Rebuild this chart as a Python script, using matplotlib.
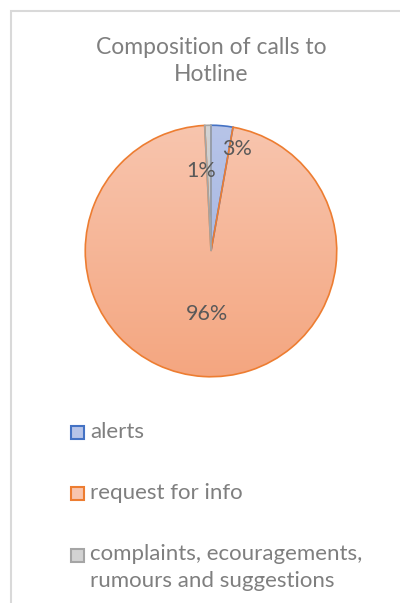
import matplotlib
matplotlib.use("Agg")
import matplotlib.pyplot as plt
import numpy as np
from matplotlib.colors import LinearSegmentedColormap
from matplotlib.patches import Rectangle

# data
categories = ['alerts', 'request for info', 'complaints, ecouragements,\nrumours and suggestions']
shares = [2.8, 96.4, 0.8]

# styles
edge_colors = ['#4472C4', '#ED7D31', '#A5A5A5']
grad_top = ['#B7C4E8', '#F8C5AE', '#D3D3D3']
grad_bottom = ['#9DB0DF', '#F4A680', '#BDBDBD']
label_dist = [0.84, 0.50, 0.64]
label_shift = [-9, 0, 5.5]  # degrees

W, H = 400, 603
plt.rcParams['font.family'] = ['Lato', 'DejaVu Sans']
fig = plt.figure(figsize=(W / 100, H / 100), dpi=100)

# chart border
fig.patches.append(Rectangle((11 / W, -0.1), 1.2, (H - 11) / H + 0.1, transform=fig.transFigure,
                             fill=False, ec='#D9D9D9', lw=1.5))

fig.text(211 / W, 1 - 37 / H, 'Composition of calls to\nHotline', ha='center', va='top',
         fontsize=16.5, color='#7F7F7F', linespacing=1.38)

ax = fig.add_axes([84 / W, 1 - 378 / H, 254 / W, 254 / H])
wedges, texts, autotexts = ax.pie(shares, startangle=90, counterclock=False, radius=1,
                                  autopct='%1.0f%%', textprops=dict(fontsize=15.5, color='#595959'),
                                  wedgeprops=dict(linewidth=1.2))

grad = np.linspace(0, 1, 256).reshape(-1, 1)
for i, w in enumerate(wedges):
    cmap = LinearSegmentedColormap.from_list('g%d' % i, [grad_top[i], grad_bottom[i]])
    img = ax.imshow(grad, extent=[-1, 1, -1, 1], origin='upper', cmap=cmap, aspect='auto', zorder=1)
    img.set_clip_path(w)
    w.set_facecolor('none')
    w.set_edgecolor(edge_colors[i])
    w.set_zorder(2)

for i, t in enumerate(autotexts):
    w = wedges[i]
    mid = np.deg2rad((w.theta1 + w.theta2) / 2 + label_shift[i])
    t.set_position((label_dist[i] * np.cos(mid), label_dist[i] * np.sin(mid)))
    t.set_zorder(3)

ax.set_xlim(-1.01, 1.01)
ax.set_ylim(-1.01, 1.01)
ax.axis('off')

# legend
legend_y = [432, 493, 555]
for i, name in enumerate(categories):
    y = legend_y[i]
    fig.patches.append(Rectangle((71 / W, 1 - (y + 6.5) / H), 13 / W, 13 / H, transform=fig.transFigure,
                                 fc=grad_top[i], ec=edge_colors[i], lw=1.5))
    if '\n' in name:
        fig.text(90 / W, 1 - (y - 11) / H, name, ha='left', va='top',
                 fontsize=16, color='#7F7F7F', linespacing=1.45)
    else:
        fig.text(90 / W, 1 - y / H, name, ha='left', va='center', fontsize=16, color='#7F7F7F')

fig.savefig('out.png', dpi=100)
